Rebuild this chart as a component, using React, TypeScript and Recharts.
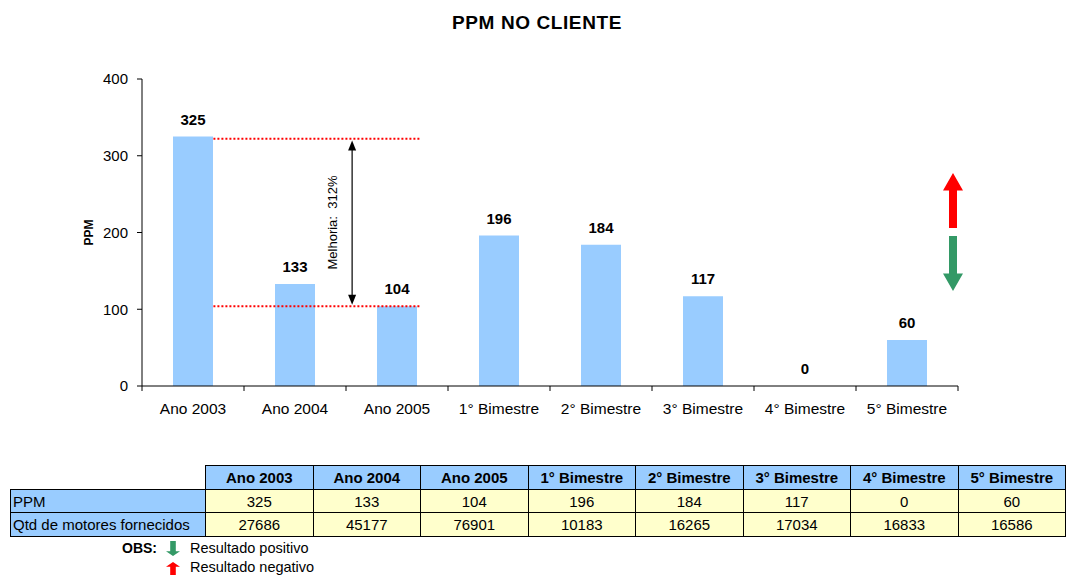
import React from 'react';
import { ComposedChart, Bar, Line, XAxis, YAxis, LabelList, ReferenceLine } from 'recharts';

const categories = ['Ano 2003', 'Ano 2004', 'Ano 2005', '1° Bimestre', '2° Bimestre', '3° Bimestre', '4° Bimestre', '5° Bimestre'];
const ppmValues = [325, 133, 104, 196, 184, 117, 0, 60];
const motores = [27686, 45177, 76901, 10183, 16265, 17034, 16833, 16586];
const yTicks = [0, 100, 200, 300, 400];
const bandTicks = [0, 1, 2, 3, 4, 5, 6, 7, 8];
const upperLevel = 322;
const lowerLevel = 104;
const refStart = 0.7;
const refEnd = 2.72;
const arrowX = 2.06;
const arrowTop = 320;
const arrowBottom = 106;
const tickDepth = -6.5;
const melhoriaText = 'Melhoria:\u00A0 312%';

const data = categories.map((c, i) => ({ name: c, ppm: ppmValues[i] }));

const FONT = 'Arial, "Liberation Sans", sans-serif';

const ArrowShape = (props: any) => {
  const { x1, y1, x2, y2 } = props;
  const top = Math.min(y1, y2);
  const bot = Math.max(y1, y2);
  const x = x1;
  const cy = (top + bot) / 2;
  return (
    <g>
      <line x1={x} y1={top + 8} x2={x} y2={bot - 8} stroke="#000" strokeWidth={1.2} />
      <polygon points={`${x},${top} ${x - 4},${top + 10} ${x + 4},${top + 10}`} fill="#000" />
      <polygon points={`${x},${bot} ${x - 4},${bot - 10} ${x + 4},${bot - 10}`} fill="#000" />
      <text x={x - 15} y={cy} transform={`rotate(-90 ${x - 15} ${cy})`} textAnchor="middle" fontSize={13} fontFamily={FONT} fill="#000">{melhoriaText}</text>
    </g>
  );
};

const UpArrow = ({ x, y, w, h, color }: any) => {
  const head = h * 0.32;
  const shaft = w * 0.4;
  return (
    <polygon
      points={`${x},${y} ${x + w / 2},${y + head} ${x + shaft / 2},${y + head} ${x + shaft / 2},${y + h} ${x - shaft / 2},${y + h} ${x - shaft / 2},${y + head} ${x - w / 2},${y + head}`}
      fill={color}
    />
  );
};
const DownArrow = ({ x, y, w, h, color }: any) => {
  const head = h * 0.32;
  const shaft = w * 0.4;
  const b = y + h;
  return (
    <polygon
      points={`${x},${b} ${x + w / 2},${b - head} ${x + shaft / 2},${b - head} ${x + shaft / 2},${y} ${x - shaft / 2},${y} ${x - shaft / 2},${b - head} ${x - w / 2},${b - head}`}
      fill={color}
    />
  );
};

const cellBorder = '1px solid #000';

export default function App() {
  return (
    <div style={{ position: 'absolute', left: 0, top: 0, width: 1067, height: 575, overflow: 'hidden', background: '#fff', fontFamily: FONT }}>
      <div style={{ position: 'absolute', left: 0, top: 12, width: 1074, textAlign: 'center', fontWeight: 'bold', fontSize: 19, letterSpacing: 0.6, color: '#000' }}>PPM NO CLIENTE</div>
      <div style={{ position: 'absolute', left: 0, top: 0 }}>
        <ComposedChart width={1067} height={430} data={data} margin={{ top: 79, right: 109, bottom: 14, left: 0 }}>
          <XAxis xAxisId="num" type="number" dataKey="ppm" domain={[0, 8]} allowDataOverflow ticks={bandTicks} hide />
          <XAxis xAxisId="cat" dataKey="name" type="category" axisLine={{ stroke: '#000' }} tickLine={false} tickSize={0} tickMargin={17} height={30} interval={0} tick={{ fontSize: 15.5, fill: '#000', fontFamily: FONT }} />
          <YAxis domain={[0, 400]} ticks={yTicks} width={142} tickSize={5} tickMargin={9} axisLine={{ stroke: '#000' }} tickLine={{ stroke: '#000' }} tick={{ fontSize: 15, fill: '#000', fontFamily: FONT }}
            label={{ value: 'PPM', angle: -90, position: 'insideLeft', offset: 89, style: { fontSize: 12, fontWeight: 'bold', fill: '#000', fontFamily: FONT, textAnchor: 'middle' } }} />
          <Bar xAxisId="cat" dataKey="ppm" fill="#99CCFF" barSize={40} isAnimationActive={false} />
          <Line xAxisId="cat" dataKey="ppm" stroke="none" dot={false} activeDot={false} isAnimationActive={false}>
            <LabelList dataKey="ppm" position="top" offset={12} style={{ fontSize: 15, fontWeight: 'bold', fill: '#000', fontFamily: FONT }} />
          </Line>
          {bandTicks.map((t) => (
            <ReferenceLine key={t} xAxisId="num" segment={[{ x: t, y: 0 }, { x: t, y: tickDepth }]} stroke="#000" strokeWidth={1} ifOverflow="visible" />
          ))}
          <ReferenceLine xAxisId="num" segment={[{ x: refStart, y: upperLevel }, { x: refEnd, y: upperLevel }]} stroke="#FF0000" strokeWidth={2} strokeDasharray="2 2" ifOverflow="visible" />
          <ReferenceLine xAxisId="num" segment={[{ x: refStart, y: lowerLevel }, { x: refEnd, y: lowerLevel }]} stroke="#FF0000" strokeWidth={2} strokeDasharray="2 2" ifOverflow="visible" />
          <ReferenceLine xAxisId="num" segment={[{ x: arrowX, y: arrowTop }, { x: arrowX, y: arrowBottom }]} shape={ArrowShape} ifOverflow="visible" />
        </ComposedChart>
      </div>
      <svg style={{ position: 'absolute', left: 0, top: 0 }} width={1067} height={575}>
        <UpArrow x={953} y={173} w={20} h={55} color="#FF0000" />
        <DownArrow x={953} y={236} w={20} h={55} color="#339966" />
        <DownArrow x={173} y={541} w={14} h={15} color="#339966" />
        <UpArrow x={173} y={562} w={14} h={15} color="#FF0000" />
      </svg>
      <table style={{ position: 'absolute', left: 10, top: 465, borderCollapse: 'collapse', tableLayout: 'fixed', fontSize: 15, fontFamily: FONT, color: '#000' }}>
        <colgroup>
          <col style={{ width: 195 }} />
          {categories.map((c) => <col key={c} style={{ width: 107.5 }} />)}
        </colgroup>
        <tbody>
          <tr style={{ height: 24 }}>
            <td style={{ padding: 0 }}></td>
            {categories.map((c) => (
              <td key={c} style={{ border: cellBorder, background: '#99CCFF', fontWeight: 'bold', textAlign: 'center', padding: 0, whiteSpace: 'nowrap', overflow: 'hidden' }}>{c}</td>
            ))}
          </tr>
          <tr style={{ height: 23 }}>
            <td style={{ border: cellBorder, background: '#99CCFF', padding: '0 2px', whiteSpace: 'nowrap' }}>PPM</td>
            {ppmValues.map((v, i) => (
              <td key={i} style={{ border: cellBorder, background: '#FFFFCC', textAlign: 'center', padding: 0 }}>{v}</td>
            ))}
          </tr>
          <tr style={{ height: 24 }}>
            <td style={{ border: cellBorder, background: '#99CCFF', padding: '0 2px', whiteSpace: 'nowrap', overflow: 'hidden' }}>Qtd de motores fornecidos</td>
            {motores.map((v, i) => (
              <td key={i} style={{ border: cellBorder, background: '#FFFFCC', textAlign: 'center', padding: 0 }}>{v}</td>
            ))}
          </tr>
        </tbody>
      </table>
      <div style={{ position: 'absolute', left: 122, top: 540, fontSize: 14, fontWeight: 'bold' }}>OBS:</div>
      <div style={{ position: 'absolute', left: 190, top: 540, fontSize: 14.5 }}>Resultado positivo</div>
      <div style={{ position: 'absolute', left: 190, top: 559, fontSize: 14.5 }}>Resultado negativo</div>
    </div>
  );
}
